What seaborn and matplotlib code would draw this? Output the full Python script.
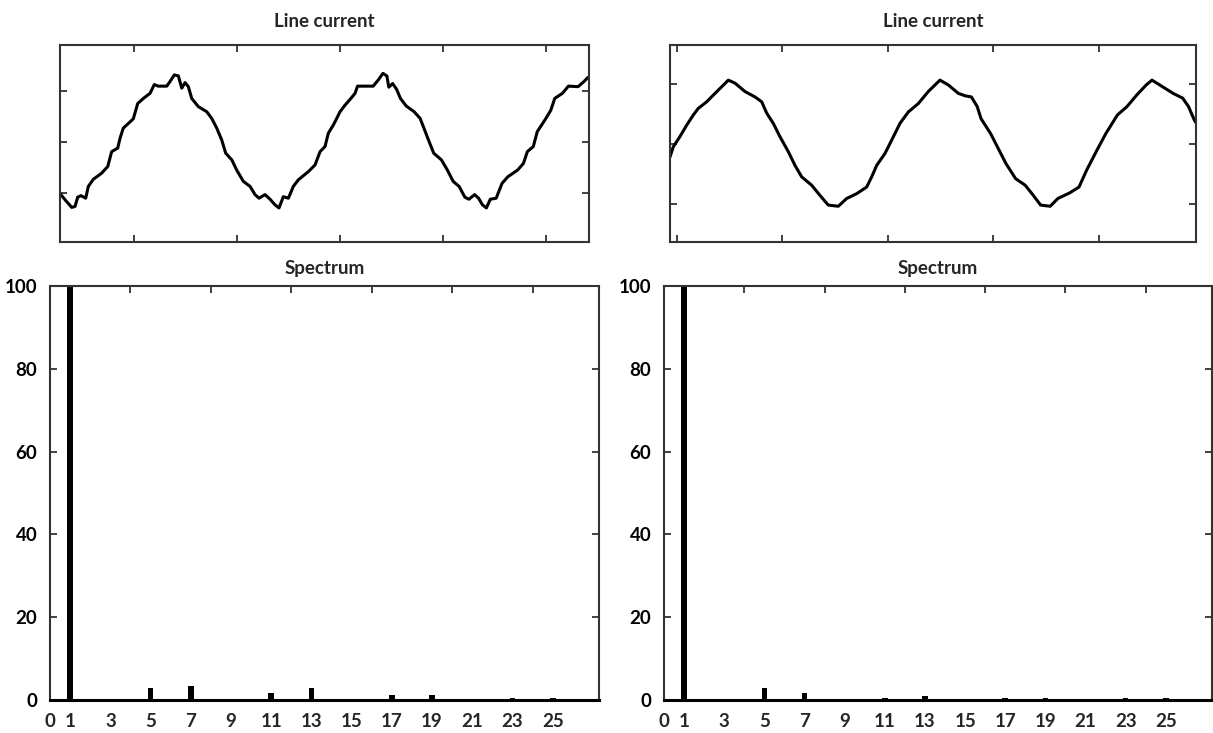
import numpy as np
import pandas as pd
import matplotlib
matplotlib.use("Agg")
import matplotlib.pyplot as plt
import seaborn as sns

# ---------------- data ----------------
# Left: line current (time in ms, normalised current)
t_left = [2.80, 3.29, 3.94, 4.26, 4.52, 4.84, 5.30, 5.55, 6.04, 6.85, 7.44, 7.82, 8.41, 8.63,
          8.95, 9.92, 10.35, 10.90, 11.55, 11.96, 12.35, 13.17, 13.49, 13.91, 14.30, 14.63,
          14.95, 15.27, 15.60, 16.24, 17.06, 17.54, 18.03, 18.51, 18.90, 19.49, 19.97, 20.61,
          21.27, 21.75, 22.14, 22.72, 23.21, 23.69, 24.08, 24.50, 24.99, 25.47, 25.96, 26.93,
          27.58, 28.07, 28.55, 28.87, 29.36, 30.01, 30.50, 30.98, 31.47, 31.71, 33.23, 33.72,
          34.18, 34.56, 34.75, 35.12, 35.50, 35.88, 36.45, 37.21, 37.79, 38.16, 38.54, 39.11,
          39.86, 40.44, 41.00, 41.58, 42.14, 42.53, 43.09, 43.47, 43.85, 44.23, 44.61, 45.18,
          45.75, 46.32, 47.26, 47.83, 48.21, 48.79, 49.17, 49.92, 50.49, 50.87, 51.62, 52.20,
          53.14, 53.71, 54.09]
i_left = [-1.01, -1.13, -1.28, -1.26, -1.08, -1.05, -1.10, -0.87, -0.73, -0.61, -0.48, -0.19,
          -0.12, 0.07, 0.27, 0.45, 0.75, 0.85, 0.95, 1.12, 1.09, 1.09, 1.18, 1.31, 1.29, 1.05,
          1.16, 1.08, 0.85, 0.69, 0.59, 0.46, 0.27, 0.04, -0.22, -0.35, -0.55, -0.77, -0.87,
          -1.03, -1.10, -1.03, -1.12, -1.23, -1.29, -1.07, -1.10, -0.87, -0.74, -0.58, -0.45,
          -0.19, -0.09, 0.17, 0.33, 0.59, 0.72, 0.83, 0.95, 1.09, 1.09, 1.21, 1.34, 1.29, 1.07,
          1.14, 1.03, 0.85, 0.70, 0.59, 0.46, 0.27, 0.07, -0.22, -0.35, -0.55, -0.77, -0.87,
          -1.08, -1.12, -1.03, -1.10, -1.23, -1.29, -1.12, -1.10, -0.81, -0.68, -0.55, -0.42,
          -0.19, -0.09, 0.20, 0.43, 0.62, 0.85, 0.95, 1.09, 1.08, 1.18, 1.26]

# Right: line current
t_right = [-0.64, -0.33, 0.30, 0.94, 1.57, 2.04, 2.84, 3.63, 4.26, 4.89, 5.52, 6.47, 7.42,
           8.05, 8.53, 9.15, 9.78, 10.57, 11.21, 11.84, 12.79, 13.58, 14.36, 15.31, 16.11,
           17.06, 18.00, 18.48, 18.95, 19.74, 20.37, 21.16, 21.95, 22.90, 23.84, 24.95, 25.74,
           26.69, 27.32, 27.93, 28.48, 28.84, 29.75, 30.48, 31.21, 32.12, 33.03, 33.76, 34.49,
           35.40, 36.13, 37.22, 38.13, 38.85, 39.76, 40.67, 41.77, 42.68, 43.59, 44.50, 45.05,
           45.96, 47.05, 47.96, 48.51, 49.05, 49.22]
i_right = [-0.21, -0.04, 0.13, 0.32, 0.49, 0.60, 0.71, 0.85, 0.96, 1.07, 1.02, 0.88, 0.79,
           0.71, 0.52, 0.35, 0.13, -0.12, -0.35, -0.54, -0.68, -0.85, -1.01, -1.03, -0.90,
           -0.82, -0.71, -0.54, -0.35, -0.15, 0.07, 0.35, 0.54, 0.68, 0.88, 1.07, 0.99, 0.85,
           0.81, 0.79, 0.63, 0.43, 0.18, -0.07, -0.32, -0.57, -0.68, -0.84, -1.01, -1.03,
           -0.90, -0.81, -0.71, -0.43, -0.12, 0.18, 0.49, 0.63, 0.82, 0.99, 1.07, 0.97, 0.85,
           0.77, 0.63, 0.41, 0.36]

# Spectra (harmonic order, % of fundamental)
harmonics = [1, 5, 7, 11, 13, 17, 19, 23, 25]
spec_left = [100, 2.9, 3.4, 1.8, 2.9, 1.3, 1.3, 0.6, 0.6]
spec_right = [100, 2.9, 1.7, 0.5, 0.9, 0.5, 0.5, 0.5, 0.5]

x_ticks_spec = [0, 1, 3, 5, 7, 9, 11, 13, 15, 17, 19, 21, 23, 25]
y_ticks_spec = [0, 20, 40, 60, 80, 100]
title_wave = "Line current"
title_spec = "Spectrum"

# ---------------- style ----------------
sns.set_style("white")
plt.rcParams["font.family"] = ["Lato", "DejaVu Sans"]
plt.rcParams["font.weight"] = "bold"

fig = plt.figure(figsize=(12.13, 7.33), dpi=100)
W, H = 1213.0, 733.0
FS = 13.5


def axes_px(x0, x1, y0, y1):
    return fig.add_axes([x0 / W, 1 - y1 / H, (x1 - x0) / W, (y1 - y0) / H])


ax_wl = axes_px(60, 589, 44.7, 241.7)
ax_wr = axes_px(670, 1196, 44.7, 241.7)
ax_sl = axes_px(50, 599, 286, 700)
ax_sr = axes_px(664, 1212, 286, 700)

spine_col = "#333333"

# ---------------- waveforms ----------------
wave_cfg = [
    (ax_wl, t_left, i_left, (2.80, 54.2), (-1.95, 1.90), [10, 20, 30, 40, 50]),
    (ax_wr, t_right, i_right, (-0.64, 49.22), (-1.62, 1.66), [0, 10, 20, 30, 40]),
]
for ax, t, i, xl, yl, xt in wave_cfg:
    df = pd.DataFrame({"t": t, "i": i})
    sns.lineplot(data=df, x="t", y="i", ax=ax, color="black", linewidth=2.2,
                 estimator=None, sort=False)
    ax.set_xlim(*xl)
    ax.set_ylim(*yl)
    ax.set_xticks(xt)
    ax.set_yticks([-1, 0, 1])
    ax.tick_params(axis="both", which="both", direction="in", length=5, width=1.3,
                   colors=spine_col, top=True, right=True, bottom=True, left=True,
                   labelbottom=False, labelleft=False)
    ax.set_xlabel("")
    ax.set_ylabel("")
    for s in ax.spines.values():
        s.set_color(spine_col)
        s.set_linewidth(1.5)
        s.set_visible(True)
    ax.set_title(title_wave, fontsize=FS, fontweight="bold", pad=13)

# ---------------- spectra ----------------
for ax, vals in [(ax_sl, spec_left), (ax_sr, spec_right)]:
    df = pd.DataFrame({"h": harmonics, "v": vals})
    sns.barplot(data=df, x="h", y="v", ax=ax, native_scale=True, color="black",
                saturation=1, width=0.14, errorbar=None, linewidth=0)
    ax.set_xlim(0, 27.3)
    ax.set_ylim(0, 100)
    ax.set_xticks(x_ticks_spec)
    ax.set_xticklabels([str(v) for v in x_ticks_spec], fontsize=FS, fontweight="bold")
    ax.set_yticks(y_ticks_spec)
    ax.set_yticklabels([str(v) for v in y_ticks_spec], fontsize=FS, fontweight="bold")
    ax.tick_params(axis="x", which="both", bottom=False, top=False, pad=6)
    ax.tick_params(axis="y", direction="in", length=5, width=1.3, colors=spine_col,
                   left=True, right=False, pad=9, labelcolor="black")
    # inward ticks on the top and right spines
    ax_top = ax.secondary_xaxis("top")
    ax_top.set_xticks([4, 8, 12, 16, 20, 24])
    ax_top.tick_params(direction="in", length=5, width=1.3, colors=spine_col,
                       labeltop=False)
    ax_top.spines["top"].set_visible(False)
    ax_rt = ax.secondary_yaxis("right")
    ax_rt.set_yticks([20, 40, 60, 80])
    ax_rt.tick_params(direction="in", length=5, width=1.3, colors=spine_col,
                      labelright=False)
    ax_rt.spines["right"].set_visible(False)
    ax.set_xlabel("")
    ax.set_ylabel("")
    for name, s in ax.spines.items():
        s.set_visible(True)
        s.set_color(spine_col)
        s.set_linewidth(1.5)
    ax.spines["bottom"].set_color("black")
    ax.spines["bottom"].set_linewidth(2.2)
    ax.set_title(title_spec, fontsize=FS, fontweight="bold", pad=9)

fig.savefig("out.png", dpi=100, facecolor="white")
